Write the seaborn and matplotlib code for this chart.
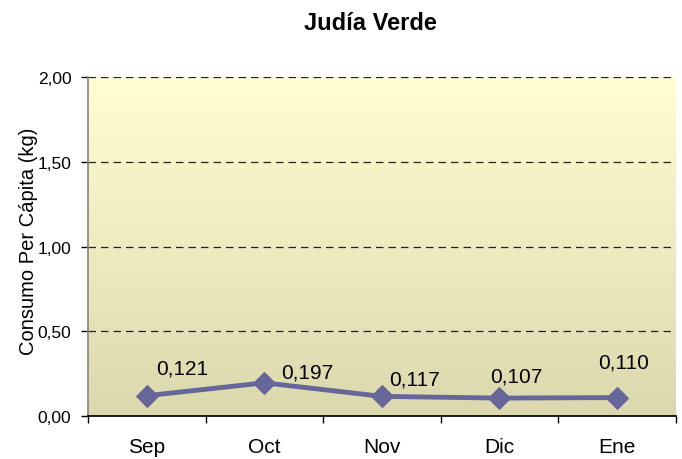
import matplotlib
matplotlib.use("Agg")
import matplotlib.pyplot as plt
import numpy as np
import pandas as pd
import seaborn as sns
from matplotlib.colors import LinearSegmentedColormap

# Data
months = ["Sep", "Oct", "Nov", "Dic", "Ene"]
consumo = [0.121, 0.197, 0.117, 0.107, 0.110]
labels = ["0,121", "0,197", "0,117", "0,107", "0,110"]
y_ticks = [0.0, 0.5, 1.0, 1.5, 2.0]
y_tick_labels = ["0,00", "0,50", "1,00", "1,50", "2,00"]

# label placement offsets (points) as in the original chart
label_dx = [7, 12, 5, -7, -14]
label_dy = [13, 1, 6, 9, 19]

df = pd.DataFrame({"mes": months, "consumo": consumo})

sns.set_theme(style="white")
plt.rcParams["font.family"] = ["Liberation Sans", "DejaVu Sans"]
plt.rcParams["text.color"] = "black"
plt.rcParams["axes.labelcolor"] = "black"
plt.rcParams["xtick.color"] = "black"
plt.rcParams["ytick.color"] = "black"

fig, ax = plt.subplots(figsize=(6.82, 4.6), dpi=100)
fig.subplots_adjust(left=0.129, right=0.991, top=0.830, bottom=0.093)

# Gradient background (light yellow at top -> khaki at bottom)
cmap = LinearSegmentedColormap.from_list("bg", ["#dcd8ae", "#ffffd2"])
grad = np.linspace(0, 1, 256).reshape(-1, 1)
ax.imshow(grad, aspect="auto", cmap=cmap, origin="lower",
          extent=(-0.5, 4.5, 0, 2.0), zorder=0)

# Grid lines
for yv in y_ticks[1:]:
    ax.axhline(yv, color="#222222", linestyle=(0, (6, 4)), linewidth=0.9, zorder=1)

sns.lineplot(data=df, x="mes", y="consumo", ax=ax, color="#666699",
             linewidth=3.5, marker="D", markersize=11, markeredgecolor="#666699",
             zorder=3, sort=False)

for i, (v, lab) in enumerate(zip(consumo, labels)):
    ax.annotate(lab, (i, v), xytext=(label_dx[i], label_dy[i]), textcoords="offset points",
                fontsize=15, ha="left", va="bottom", color="black")

ax.set_xlim(-0.5, 4.5)
ax.set_ylim(0, 2.0)
ax.set_yticks(y_ticks)
ax.set_yticklabels(y_tick_labels, fontsize=12.5)
ax.set_xticks(range(len(months)))
ax.set_xticklabels(months, fontsize=15)
ax.set_xlabel("")
ax.set_ylabel("Consumo Per Cápita (kg)", fontsize=14.5)
ax.yaxis.set_label_coords(-0.085, 0.52)

# Minor ticks between categories on the x axis
ax.set_xticks(np.arange(-0.5, 5.0, 1.0), minor=True)
ax.tick_params(axis="x", which="major", bottom=True, length=0, pad=15)
ax.tick_params(axis="x", which="minor", bottom=True, length=5, direction="out", color="black", width=1)
ax.tick_params(axis="y", which="major", left=True, length=5, direction="out", color="black", width=1, pad=7)

for s in ["top", "right"]:
    ax.spines[s].set_visible(False)
ax.spines["left"].set_color("#888888")
ax.spines["bottom"].set_color("black")

fig.suptitle("Judía Verde", fontsize=17, fontweight="bold", x=0.543, y=0.975)

fig.savefig("out.png", dpi=100)
